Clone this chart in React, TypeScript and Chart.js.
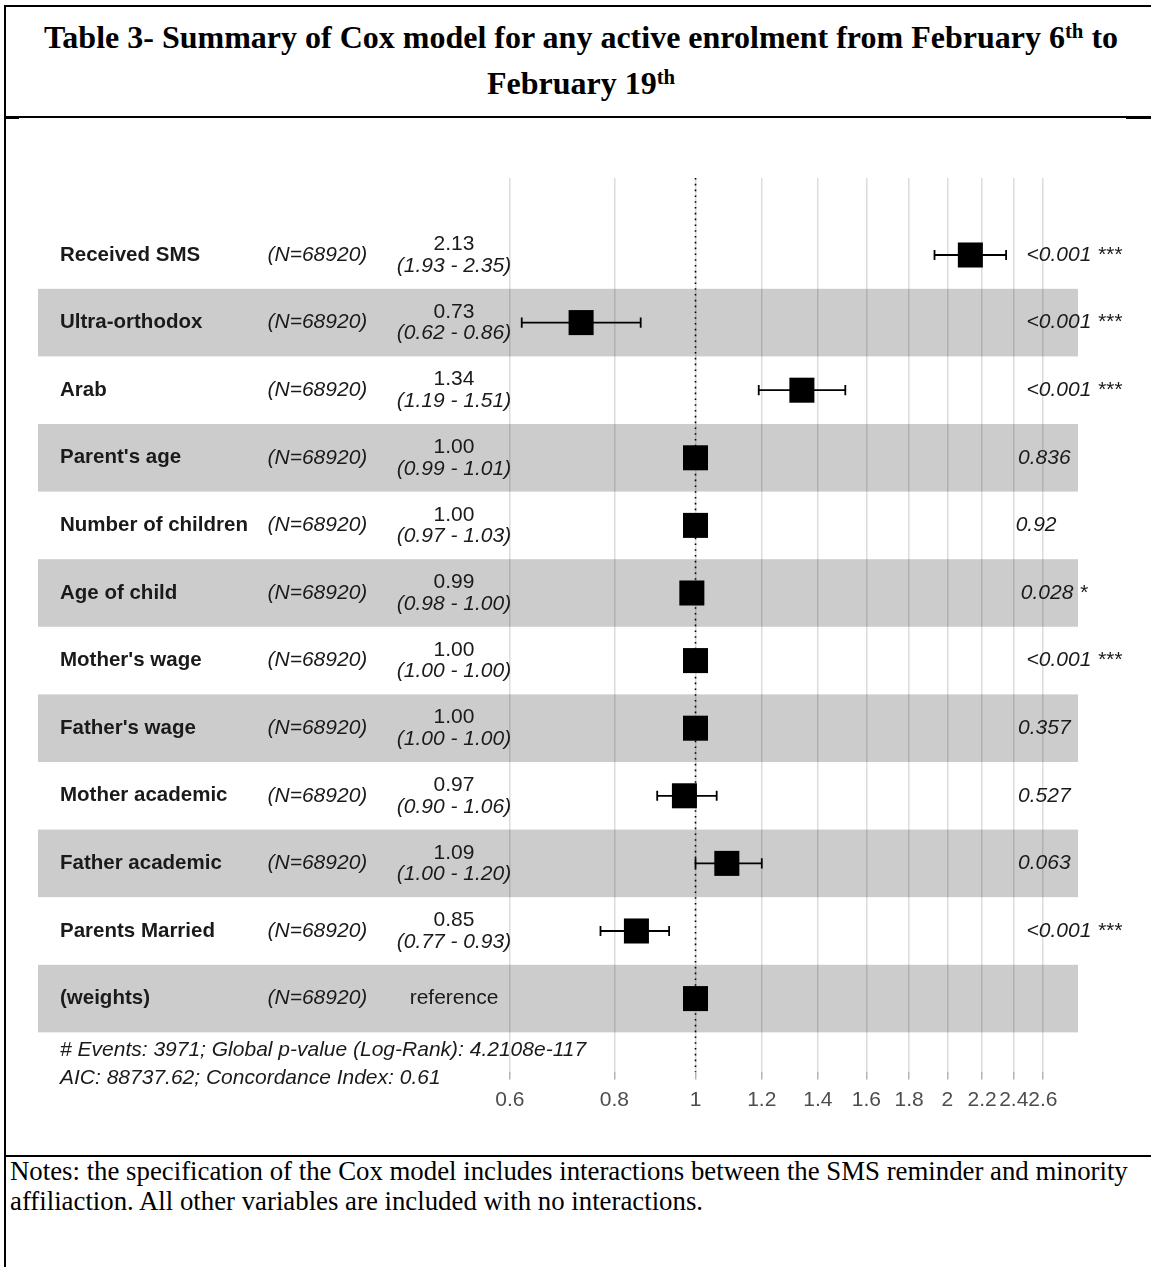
import React, { useEffect, useRef } from "react";
import { Chart, registerables } from "chart.js";

Chart.register(...registerables);

// ---------- data ----------
const variableLabels = [
  "Received SMS",
  "Ultra-orthodox",
  "Arab",
  "Parent's age",
  "Number of children",
  "Age of child",
  "Mother's wage",
  "Father's wage",
  "Mother academic",
  "Father academic",
  "Parents Married",
  "(weights)",
];
const sampleSizes = [68920, 68920, 68920, 68920, 68920, 68920, 68920, 68920, 68920, 68920, 68920, 68920];
const hazardRatios = [2.13, 0.73, 1.34, 1.0, 1.0, 0.99, 1.0, 1.0, 0.97, 1.09, 0.85, 1.0];
const ciLow: (number | null)[] = [1.93, 0.62, 1.19, 0.99, 0.97, 0.98, 1.0, 1.0, 0.9, 1.0, 0.77, null];
const ciHigh: (number | null)[] = [2.35, 0.86, 1.51, 1.01, 1.03, 1.0, 1.0, 1.0, 1.06, 1.2, 0.93, null];
const pValueLabels = ["<0.001", "<0.001", "<0.001", "0.836", "0.92", "0.028", "<0.001", "0.357", "0.527", "0.063", "<0.001", ""];
const significanceStars = ["***", "***", "***", "", "", "*", "***", "", "", "", "***", ""];
const axisTickValues = [0.6, 0.8, 1, 1.2, 1.4, 1.6, 1.8, 2, 2.2, 2.4, 2.6];
const axisTickLabels = ["0.6", "0.8", "1", "1.2", "1.4", "1.6", "1.8", "2", "2.2", "2.4", "2.6"];
const modelSummaryLines = [
  "# Events: 3971; Global p-value (Log-Rank): 4.2108e-117",
  "AIC: 88737.62; Concordance Index: 0.61",
];
const referenceLabel = "reference";

const SANS = '"Liberation Sans", Arial, Helvetica, sans-serif';
const SERIF = '"Liberation Serif", "Times New Roman", Times, serif';
const TEXT_PX = 21;

const forestPlugin = {
  id: "forestDecor",
  beforeDatasetsDraw(chart: any) {
    const { ctx, chartArea: a } = chart;
    const x = chart.scales.x;
    const y = chart.scales.y;
    ctx.save();
    // alternating bands
    ctx.fillStyle = "rgba(0,0,0,0.2)";
    variableLabels.forEach((_, i) => {
      if (i % 2 === 1) {
        const t = y.getPixelForValue(i - 0.5);
        const b = y.getPixelForValue(i + 0.5);
        ctx.fillRect(a.left, t, a.right - a.left, b - t);
      }
    });
    // dotted reference line at HR = 1
    const x1 = x.getPixelForValue(1);
    ctx.strokeStyle = "#000";
    ctx.lineWidth = 1.6;
    ctx.setLineDash([1.6, 4.2]);
    ctx.beginPath();
    ctx.moveTo(x1, a.top);
    ctx.lineTo(x1, a.bottom);
    ctx.stroke();
    ctx.setLineDash([]);
    // confidence intervals
    ctx.lineWidth = 1.8;
    ctx.strokeStyle = "#000";
    variableLabels.forEach((_, i) => {
      const lo = ciLow[i];
      const hi = ciHigh[i];
      if (lo == null || hi == null) return;
      const yc = y.getPixelForValue(i);
      const capT = y.getPixelForValue(i - 0.075);
      const capB = y.getPixelForValue(i + 0.075);
      const xl = x.getPixelForValue(lo);
      const xh = x.getPixelForValue(hi);
      ctx.beginPath();
      ctx.moveTo(xl, yc);
      ctx.lineTo(xh, yc);
      ctx.moveTo(xl, capT);
      ctx.lineTo(xl, capB);
      ctx.moveTo(xh, capT);
      ctx.lineTo(xh, capB);
      ctx.stroke();
    });
    ctx.restore();
  },
  afterDatasetsDraw(chart: any) {
    const { ctx } = chart;
    const y = chart.scales.y;
    ctx.save();
    ctx.fillStyle = "#1a1a1a";
    ctx.textBaseline = "middle";
    variableLabels.forEach((label, i) => {
      const yc = y.getPixelForValue(i);
      ctx.textAlign = "left";
      ctx.font = `bold 20.5px ${SANS}`;
      ctx.fillText(label, 60, yc);
      ctx.font = `italic ${TEXT_PX}px ${SANS}`;
      ctx.fillText(`(N=${sampleSizes[i]})`, 267.5, yc);
      ctx.textAlign = "center";
      const lo = ciLow[i];
      const hi = ciHigh[i];
      if (lo == null || hi == null) {
        ctx.font = `${TEXT_PX}px ${SANS}`;
        ctx.fillText(referenceLabel, 454, yc);
      } else {
        ctx.font = `${TEXT_PX}px ${SANS}`;
        ctx.fillText(hazardRatios[i].toFixed(2), 454, yc - 10.5);
        ctx.font = `italic ${TEXT_PX}px ${SANS}`;
        ctx.fillText(`(${lo.toFixed(2)} - ${hi.toFixed(2)})`, 454, yc + 11);
      }
      const pText = significanceStars[i] ? `${pValueLabels[i]} ${significanceStars[i]}` : pValueLabels[i];
      if (pText) {
        ctx.font = `italic ${TEXT_PX}px ${SANS}`;
        ctx.textAlign = "left";
        const w = ctx.measureText(pText).width;
        ctx.fillText(pText, 1007.5 + 0.2 * w, yc);
      }
    });
    // model summary under the last band
    const bandBottom = y.getPixelForValue(variableLabels.length - 0.5);
    ctx.font = `italic ${TEXT_PX}px ${SANS}`;
    ctx.textAlign = "left";
    modelSummaryLines.forEach((line, k) => {
      ctx.fillText(line, 60, bandBottom + 18 + k * 28);
    });
    ctx.restore();
  },
};

function ForestChart() {
  const ref = useRef<HTMLCanvasElement | null>(null);
  useEffect(() => {
    if (!ref.current) return;
    const chart = new Chart(ref.current, {
      type: "scatter",
      data: {
        datasets: [
          {
            data: hazardRatios.map((v, i) => ({ x: v, y: i })),
            pointStyle: "rect",
            pointRadius: 17.7,
            pointHoverRadius: 17.7,
            backgroundColor: "#000",
            borderColor: "#000",
            borderWidth: 0,
          },
        ],
      },
      options: {
        animation: false,
        responsive: false,
        maintainAspectRatio: false,
        events: [],
        layout: { padding: { left: 38, right: 73, top: 58, bottom: 0 } },
        plugins: { legend: { display: false }, tooltip: { enabled: false } },
        scales: {
          x: {
            type: "logarithmic",
            min: 0.16385,
            max: 2.8641,
            afterBuildTicks: (scale: any) => {
              scale.ticks = axisTickValues.map((v) => ({ value: v }));
            },
            afterFit: (scale: any) => {
              scale.height = 78;
            },
            ticks: {
              autoSkip: false,
              maxRotation: 0,
              minRotation: 0,
              padding: 8,
              color: "#4d4d4d",
              font: { family: SANS, size: TEXT_PX },
              callback: (_v: any, idx: number) => axisTickLabels[idx],
            },
            grid: {
              color: "#dcdcdc",
              lineWidth: 1.5,
              drawTicks: true,
              tickLength: 7.5,
              tickColor: "#b3b3b3",
              tickWidth: 1.5,
            },
            border: { display: false },
          },
          y: {
            type: "linear",
            min: -1.139,
            max: 12.086,
            reverse: true,
            display: false,
          },
        },
      },
      plugins: [forestPlugin],
    } as any);
    return () => chart.destroy();
  }, []);
  return (
    <canvas
      ref={ref}
      width={1151}
      height={1030}
      style={{ position: "absolute", left: 0, top: 120, width: 1151, height: 1030 }}
    />
  );
}

const line = (s: React.CSSProperties) => (
  <div style={{ position: "absolute", background: "#000", ...s }} />
);

export default function App() {
  const sup: React.CSSProperties = { fontSize: "0.65em", verticalAlign: "0.5em", lineHeight: 0 };
  return (
    <div
      style={{
        position: "absolute",
        left: 0,
        top: 0,
        width: 1151,
        height: 1267,
        background: "#fff",
        overflow: "hidden",
      }}
    >
      {line({ left: 4, top: 5, width: 1147, height: 2 })}
      {line({ left: 4, top: 5, width: 2, height: 1262 })}
      {line({ left: 4, top: 116, width: 1147, height: 2 })}
      {line({ left: 6, top: 117, width: 13, height: 2 })}
      {line({ left: 1126, top: 117, width: 25, height: 2 })}
      {line({ left: 4, top: 1155, width: 1147, height: 2 })}
      <div
        style={{
          position: "absolute",
          left: 11,
          top: 17,
          width: 1140,
          font: `bold 32px ${SERIF}`,
          lineHeight: "40px",
          textAlign: "center",
          whiteSpace: "nowrap",
          color: "#000",
        }}
      >
        Table 3- Summary of Cox model for any active enrolment from February 6<sup style={sup}>th</sup> to
      </div>
      <div
        style={{
          position: "absolute",
          left: 11,
          top: 63,
          width: 1140,
          font: `bold 32px ${SERIF}`,
          lineHeight: "40px",
          textAlign: "center",
          whiteSpace: "nowrap",
          color: "#000",
        }}
      >
        February 19<sup style={sup}>th</sup>
      </div>
      <ForestChart />
      <div
        style={{
          position: "absolute",
          left: 10,
          top: 1156,
          font: `26.8px ${SERIF}`,
          lineHeight: "30px",
          whiteSpace: "nowrap",
          color: "#000",
        }}
      >
        Notes: the specification of the Cox model includes interactions between the SMS reminder and minority
      </div>
      <div
        style={{
          position: "absolute",
          left: 10,
          top: 1186,
          font: `26.8px ${SERIF}`,
          lineHeight: "30px",
          whiteSpace: "nowrap",
          color: "#000",
        }}
      >
        affiliaction. All other variables are included with no interactions.
      </div>
    </div>
  );
}
